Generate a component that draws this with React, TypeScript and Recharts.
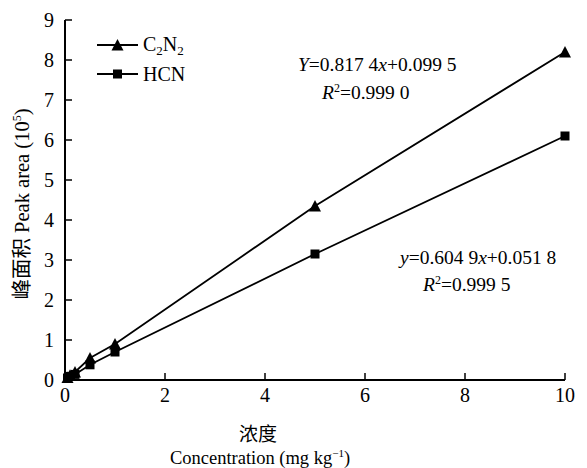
import React from "react";
import { LineChart, Line, XAxis, YAxis } from "recharts";

const concentration = [0.05, 0.1, 0.2, 0.5, 1, 5, 10];
const c2n2 = [0.06, 0.12, 0.2, 0.55, 0.9, 4.35, 8.2];
const hcn = [0.05, 0.09, 0.14, 0.38, 0.7, 3.15, 6.1];
const xTicks = [0, 2, 4, 6, 8, 10];
const yTicks = [0, 1, 2, 3, 4, 5, 6, 7, 8, 9];

const data = concentration.map((x, i) => ({ x, c2n2: c2n2[i], hcn: hcn[i] }));

const W = 587;
const H = 468;
const serif = "'Liberation Serif', 'Times New Roman', serif";
const cjk = "'Noto Sans CJK SC', sans-serif";

const Triangle = (props: any) => {
  const { cx, cy } = props;
  if (cx == null || cy == null) return null;
  const s = 6;
  return <polygon points={`${cx},${cy - s} ${cx - s},${cy + s * 0.9} ${cx + s},${cy + s * 0.9}`} fill="#000" />;
};

const Square = (props: any) => {
  const { cx, cy } = props;
  if (cx == null || cy == null) return null;
  const s = 4.5;
  return <rect x={cx - s} y={cy - s} width={2 * s} height={2 * s} fill="#000" />;
};

const XTick = (props: any) => {
  const { x, y, payload } = props;
  return (
    <g>
      <line x1={x} y1={380} x2={x} y2={373} stroke="#000" strokeWidth={1.5} />
      <text x={x} y={402} textAnchor="middle" fontFamily={serif} fontSize={20} fill="#000">
        {payload.value}
      </text>
    </g>
  );
};

const YTick = (props: any) => {
  const { y, payload } = props;
  return (
    <g>
      <line x1={65} y1={y} x2={72} y2={y} stroke="#000" strokeWidth={1.5} />
      <text x={54} y={y + 7} textAnchor="end" fontFamily={serif} fontSize={20} fill="#000">
        {payload.value}
      </text>
    </g>
  );
};

export default function App() {
  return (
    <div style={{ position: "absolute", left: 0, top: 0, width: W, height: H, background: "#fff" }}>
      <LineChart width={W} height={H} data={data} margin={{ top: 20, right: 22, left: 0, bottom: 0 }}>
        <XAxis
          dataKey="x"
          type="number"
          domain={[0, 10]}
          ticks={xTicks}
          height={88}
          axisLine={{ stroke: "#000", strokeWidth: 2 }}
          tickLine={false}
          tick={<XTick />}
        />
        <YAxis
          type="number"
          domain={[0, 9]}
          ticks={yTicks}
          width={65}
          axisLine={{ stroke: "#000", strokeWidth: 2 }}
          tickLine={false}
          tick={<YTick />}
        />
        <Line dataKey="c2n2" type="linear" stroke="#000" strokeWidth={1.8} dot={<Triangle />} activeDot={false} isAnimationActive={false} />
        <Line dataKey="hcn" type="linear" stroke="#000" strokeWidth={1.8} dot={<Square />} activeDot={false} isAnimationActive={false} />
      </LineChart>
      <svg width={W} height={H} style={{ position: "absolute", left: 0, top: 0, pointerEvents: "none" }}>
        {/* legend */}
        <line x1={97} y1={45} x2={138} y2={45} stroke="#000" strokeWidth={1.8} />
        <polygon points="117.5,39 111.5,50.4 123.5,50.4" fill="#000" />
        <text x={143} y={51} fontFamily={serif} fontSize={20} fill="#000">
          C<tspan fontSize={13} dy={4}>2</tspan>
          <tspan dy={-4}>N</tspan>
          <tspan fontSize={13} dy={4}>2</tspan>
        </text>
        <line x1={97} y1={74} x2={138} y2={74} stroke="#000" strokeWidth={1.8} />
        <rect x={113} y={69.5} width={9} height={9} fill="#000" />
        <text x={143} y={81} fontFamily={serif} fontSize={20} fill="#000">HCN</text>

        {/* equations */}
        <text x={298} y={71} fontFamily={serif} fontSize={19.5} fill="#000">
          <tspan fontStyle="italic">Y</tspan>=0.817 4<tspan fontStyle="italic">x</tspan>+0.099 5
        </text>
        <text x={322} y={99} fontFamily={serif} fontSize={19.5} fill="#000">
          <tspan fontStyle="italic">R</tspan>
          <tspan fontSize={12} dy={-7}>2</tspan>
          <tspan dy={7}>=0.999 0</tspan>
        </text>
        <text x={400} y={264} fontFamily={serif} fontSize={19.5} fill="#000">
          <tspan fontStyle="italic">y</tspan>=0.604 9<tspan fontStyle="italic">x</tspan>+0.051 8
        </text>
        <text x={423} y={291} fontFamily={serif} fontSize={19.5} fill="#000">
          <tspan fontStyle="italic">R</tspan>
          <tspan fontSize={12} dy={-7}>2</tspan>
          <tspan dy={7}>=0.999 5</tspan>
        </text>

        {/* axis titles */}
        <text x={258} y={441} textAnchor="middle" fontFamily={cjk} fontSize={19} fill="#000">浓度</text>
        <text x={260} y={464} textAnchor="middle" fontFamily={serif} fontSize={18.5} fill="#000">
          Concentration (mg kg<tspan fontSize={11} dy={-7}>−1</tspan>
          <tspan dy={7}>)</tspan>
        </text>
        <text
          transform="translate(29,204) rotate(-90)"
          textAnchor="middle"
          fontFamily={serif}
          fontSize={20.5}
          fill="#000"
        >
          <tspan fontFamily={cjk}>峰面积</tspan> Peak area (10<tspan fontSize={12} dy={-8}>5</tspan>
          <tspan dy={8}>)</tspan>
        </text>
      </svg>
    </div>
  );
}
